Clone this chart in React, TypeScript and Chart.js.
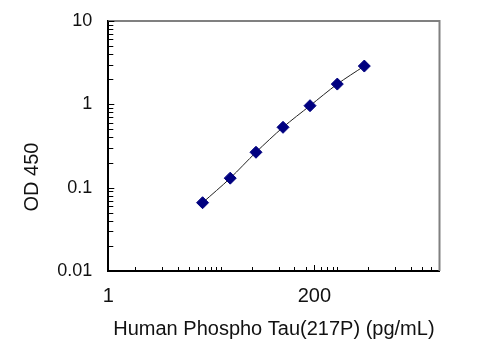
import React, { useEffect, useRef } from "react";
import { Chart, registerables } from "chart.js";

Chart.register(...registerables);

// ---- data ----
const concentrations = [11.3, 23, 44.6, 89.4, 179, 361, 723];
const odValues = [0.066, 0.13, 0.266, 0.53, 0.963, 1.75, 2.88];

// ---- axes ----
const xMin = 1;
const xMax = 5000;
const yMin = 0.01;
const yMax = 10;
const xTickValues = [1, 200];
const xTickLabels = ["1", "200"];
const xMinorTicks = [
  2, 4, 6, 8, 10, 12, 14, 16, 18,
  40, 80, 120, 160, 240, 280, 320, 360,
  800, 1600, 2400, 3200, 4000,
];
const yTickValues = [0.01, 0.1, 1, 10];
const yTickLabels = ["0.01", "0.1", "1", "10"];
const yMinorTicks = [
  0.02, 0.03, 0.04, 0.05, 0.06, 0.07, 0.08, 0.09,
  0.2, 0.3, 0.4, 0.5, 0.6, 0.7, 0.8, 0.9,
  2, 3, 4, 5, 6, 7, 8, 9,
];
const xTitle = "Human Phospho Tau(217P) (pg/mL)";
const yTitle = "OD 450";

const FONT = '"Liberation Sans", Arial, sans-serif';

const framePlugin = {
  id: "frameAndTicks",
  afterDraw(chart: any) {
    const { ctx, chartArea, scales } = chart;
    const { left, right, top, bottom } = chartArea;
    const x = scales.x;
    const y = scales.y;
    ctx.save();
    // gray top/right frame
    ctx.strokeStyle = "#808080";
    ctx.lineWidth = 2;
    ctx.beginPath();
    ctx.moveTo(left, top);
    ctx.lineTo(right, top);
    ctx.lineTo(right, bottom);
    ctx.stroke();
    // inward tick marks
    ctx.strokeStyle = "#000";
    ctx.lineWidth = 1;
    ctx.beginPath();
    for (const v of xMinorTicks) {
      const px = Math.round(x.getPixelForValue(v)) + 0.5;
      ctx.moveTo(px, bottom);
      ctx.lineTo(px, bottom - 4);
    }
    for (const v of xTickValues) {
      const px = Math.round(x.getPixelForValue(v)) + 0.5;
      ctx.moveTo(px, bottom);
      ctx.lineTo(px, bottom - 6);
    }
    for (const v of yMinorTicks) {
      const py = Math.round(y.getPixelForValue(v)) + 0.5;
      ctx.moveTo(left, py);
      ctx.lineTo(left + 5, py);
    }
    for (const v of yTickValues) {
      const py = Math.round(y.getPixelForValue(v)) + 0.5;
      ctx.moveTo(left, py);
      ctx.lineTo(left + 6, py);
    }
    ctx.stroke();
    // y axis title
    ctx.font = `20px ${FONT}`;
    ctx.fillStyle = "#111";
    ctx.textAlign = "center";
    ctx.textBaseline = "middle";
    ctx.translate(left - 76, (top + bottom) / 2 + 31);
    ctx.rotate(-Math.PI / 2);
    ctx.fillText(yTitle, 0, 0);
    ctx.restore();
  },
};

export default function App() {
  const canvasRef = useRef<HTMLCanvasElement | null>(null);

  useEffect(() => {
    if (!canvasRef.current) return;
    const chart = new Chart(canvasRef.current, {
      type: "line",
      data: {
        datasets: [
          {
            data: concentrations.map((c, i) => ({ x: c, y: odValues[i] })),
            borderColor: "#222",
            borderWidth: 1,
            tension: 0.3,
            pointStyle: "rectRot",
            pointRadius: 6,
            pointBackgroundColor: "#000080",
            pointBorderColor: "#000080",
            pointBorderWidth: 1,
          },
        ],
      },
      options: {
        responsive: false,
        animation: false,
        devicePixelRatio: 1,
        layout: { padding: { top: 21, right: 60.5, left: 0, bottom: 0 } },
        plugins: {
          legend: { display: false },
          tooltip: { enabled: false },
        },
        scales: {
          x: {
            type: "logarithmic",
            min: xMin,
            max: xMax,
            grid: { display: false, drawTicks: false },
            border: { display: true, color: "#000", width: 2 },
            afterBuildTicks: (scale: any) => {
              scale.ticks = xTickValues.map((v) => ({ value: v }));
            },
            afterFit: (scale: any) => {
              scale.height = 89;
              scale.paddingLeft = 0;
              scale.paddingRight = 0;
            },
            ticks: {
              autoSkip: false,
              maxRotation: 0,
              padding: 13,
              color: "#111",
              font: { family: FONT, size: 20 },
              callback: (v: any) => {
                const i = xTickValues.indexOf(Number(v));
                return i >= 0 ? xTickLabels[i] : "";
              },
            },
            title: {
              display: true,
              text: xTitle,
              color: "#111",
              font: { family: FONT, size: 20 },
              padding: { top: 0, bottom: 19 },
            },
          },
          y: {
            type: "logarithmic",
            min: yMin,
            max: yMax,
            grid: { display: false, drawTicks: false },
            border: { display: true, color: "#000", width: 2 },
            afterBuildTicks: (scale: any) => {
              scale.ticks = yTickValues.map((v) => ({ value: v }));
            },
            afterFit: (scale: any) => {
              scale.width = 108.3;
              scale.paddingTop = 0;
              scale.paddingBottom = 0;
            },
            ticks: {
              autoSkip: false,
              padding: 16,
              color: "#111",
              font: { family: FONT, size: 18 },
              callback: (v: any) => {
                const i = yTickValues.findIndex((t) => Math.abs(t - Number(v)) < 1e-9);
                return i >= 0 ? yTickLabels[i] : "";
              },
            },
          },
        },
      },
      plugins: [framePlugin],
    } as any);
    return () => chart.destroy();
  }, []);

  return (
    <div style={{ position: "absolute", left: 0, top: 0, width: 500, height: 360, background: "#fff" }}>
      <canvas ref={canvasRef} width={500} height={360} />
    </div>
  );
}
